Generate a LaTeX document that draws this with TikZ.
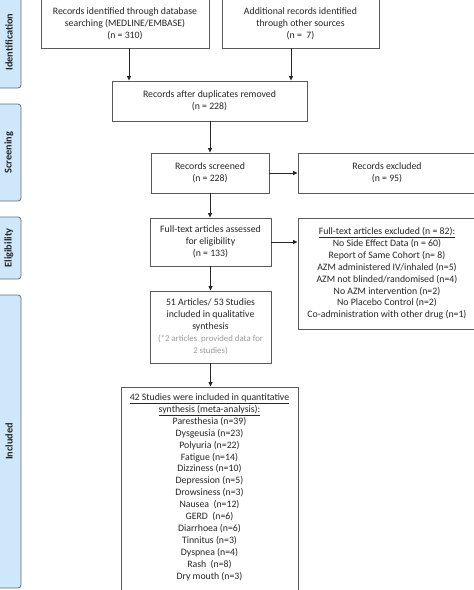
\documentclass[tikz,border=0pt]{standalone}
\usepackage{fontspec}
\setmainfont{Carlito}
\usetikzlibrary{arrows.meta}
\definecolor{boxline}{HTML}{5A5A5A}
\definecolor{sidefill}{HTML}{CFE7FB}
\definecolor{sideline}{HTML}{5F6F7F}
\definecolor{notegray}{HTML}{9A9A9A}
\definecolor{txt}{HTML}{262626}
\begin{document}
\begin{tikzpicture}[x=1pt,y=-1pt,
  box/.style={draw=boxline, line width=0.9pt, fill=white, align=center, text=txt,
    font=\fontsize{9.8}{11.9}\selectfont, inner sep=0pt},
  side/.style={draw=sideline, fill=sidefill, rounded corners=3pt, line width=0.8pt,
    rotate=90, font=\fontsize{10.3}{12}\selectfont\bfseries, text=txt, inner sep=0pt},
  arr/.style={draw=black!85, line width=0.8pt, -{Triangle[length=4.5pt,width=4pt]}},
  lst/.style={align=center, text=txt, font=\fontsize{9.8}{11.9}\selectfont, inner sep=0pt}]
\useasboundingbox (0,0) rectangle (474,590);

% side bars
\node[side, minimum width=92pt, minimum height=24pt] (s1) at (9,42) {Identification};
\node[side, minimum width=97pt, minimum height=24pt] (s2) at (9,152.5) {Screening};
\node[side, minimum width=62pt, minimum height=24pt] (s3) at (9,248) {Eligibility};
\node[side, minimum width=293pt, minimum height=24pt] (s4) at (9,441.5) {Included};

% boxes
\node[box, minimum width=168pt, minimum height=49pt] (A) at (125,23.5)
  {Records identified through database\\searching (MEDLINE/EMBASE)\\(n = 310)};
\node[box, minimum width=157pt, minimum height=49pt] (B) at (300.5,23.5)
  {Additional records identified\\through other sources\\(n = \ 7)};
\node[box, minimum width=195pt, minimum height=40pt] (C) at (209.5,101)
  {Records after duplicates removed\\(n = 228)};
\node[box, minimum width=118pt, minimum height=40pt] (D) at (210,173)
  {Records screened\\(n = 228)};
\node[box, minimum width=178pt, minimum height=40pt] (E) at (387,173)
  {Records excluded\\(n = 95)};
\node[box, minimum width=121pt, minimum height=48pt] (F) at (210.5,242)
  {Full-text articles assessed\\for eligibility\\(n = 133)};
\node[box, minimum width=178pt, minimum height=111pt] (G) at (387,273.5)
  {\underline{Full-text articles excluded (n = 82):}\\No Side Effect Data (n = 60)\\Report of Same Cohort (n= 8)\\AZM administered IV/inhaled (n=5)\\AZM not blinded/randomised (n=4)\\No AZM intervention (n=2)\\No Placebo Control (n=2)\\Co-administration with other drug (n=1)};
\node[box, minimum width=121pt, minimum height=72pt] (H) at (210.5,327)
  {51 Articles/ 53 Studies\\included in qualitative\\synthesis\\{\color{notegray}\fontsize{8.8}{11.6}\selectfont (*2 articles \ provided data for}\\{\color{notegray}\fontsize{8.8}{11.6}\selectfont 2 studies)}};
\node[box, minimum width=177pt, minimum height=210pt] (I) at (209.5,492) {};
\node[lst, anchor=north] (Itext) at (209.5,393.5)
  {\underline{42 Studies were included in quantitative}\\\underline{synthesis (meta-analysis):}\\
   Paresthesia (n=39)\\Dysgeusia (n=23)\\Polyuria (n=22)\\Fatigue (n=14)\\Dizziness (n=10)\\
   Depression (n=5)\\Drowsiness (n=3)\\Nausea \ (n=12)\\GERD \ (n=6)\\Diarrhoea (n=6)\\
   Tinnitus (n=3)\\Dyspnea (n=4)\\Rash \ (n=8)\\Dry mouth (n=3)};

% connectors
\draw[arr] ([xshift=4pt]A.south) -- ([xshift=4pt]A.south |- C.north);
\draw[arr] ([xshift=-9.5pt]B.south) -- ([xshift=-9.5pt]B.south |- C.north);
\draw[arr] (C.south -| D.north) -- (D.north);
\draw[arr] (D.east) -- (E.west);
\draw[arr] (D.south) -- (D.south |- F.north);
\draw[arr] (F.east) -- (F.east -| G.west);
\draw[arr] (F.south) -- (F.south |- H.north);
\draw[arr] (H.south) -- (H.south |- I.north);
\end{tikzpicture}
\end{document}
